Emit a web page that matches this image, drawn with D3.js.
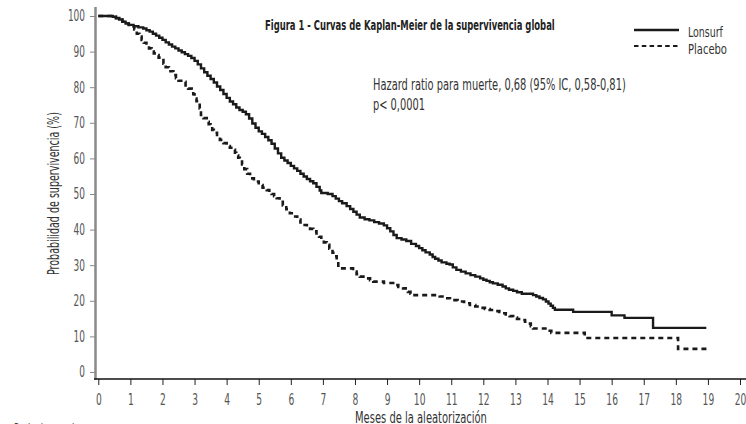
<!DOCTYPE html>
<html><head><meta charset="utf-8">
<script src="https://cdn.jsdelivr.net/npm/d3@7"></script>
<style>
html,body{margin:0;padding:0;background:#fff;}
text{font-family:"Liberation Sans Narrow","DejaVu Sans Condensed","Roboto Condensed","Liberation Sans",Arial,sans-serif;}
</style></head>
<body>
<svg id="c" width="746" height="424"></svg>
<script>
// ---- data ----
const lonsurfTime = [0,0.3,0.45,0.55,0.65,0.75,0.85,0.95,1.1,1.25,1.4,1.5,1.6,1.7,1.8,1.9,2.0,2.1,2.2,2.3,2.4,2.5,2.6,2.7,2.8,2.9,3.0,3.1,3.2,3.3,3.4,3.5,3.6,3.7,3.8,3.9,4.0,4.1,4.2,4.3,4.4,4.5,4.6,4.7,4.8,4.9,5.0,5.1,5.2,5.3,5.4,5.5,5.6,5.7,5.8,5.9,6.0,6.1,6.2,6.3,6.4,6.5,6.6,6.7,6.8,6.9,6.95,7.15,7.3,7.4,7.5,7.6,7.74,7.85,7.95,8.05,8.15,8.3,8.45,8.6,8.75,8.9,9.0,9.1,9.2,9.3,9.45,9.6,9.75,9.9,10.0,10.1,10.2,10.33,10.42,10.5,10.6,10.7,10.85,10.95,11.05,11.16,11.3,11.45,11.6,11.75,11.9,12.0,12.1,12.2,12.3,12.45,12.6,12.7,12.8,12.93,13.05,13.2,13.55,13.65,13.75,13.86,13.95,14.03,14.1,14.17,14.23,14.8,16.0,16.4,17.29,18.95];
const lonsurfSurv = [100,100,99.8,99.4,99.0,98.4,97.9,97.5,97.1,96.8,96.5,96.0,95.6,95.0,94.5,93.9,93.3,92.6,92.0,91.4,90.9,90.3,89.8,89.3,88.8,88.2,87.4,86.4,85.3,84.2,83.2,82.3,81.3,80.2,79.2,78.1,77.0,76.0,75.2,74.3,73.6,73.1,72.4,71.2,69.8,68.6,67.6,66.9,66.0,65.1,64.1,62.8,61.4,60.2,59.4,58.7,57.9,57.2,56.5,55.7,54.9,54.2,53.6,53.0,52.0,51.0,50.3,50.0,49.4,48.7,48.0,47.4,46.6,45.8,45.0,44.2,43.4,42.9,42.6,42.1,41.7,41.2,40.4,39.5,38.5,37.6,37.2,36.8,36.0,35.4,34.8,34.2,33.6,33.0,32.3,31.8,31.3,30.8,30.4,30.2,29.4,28.7,28.2,27.7,27.2,26.8,26.3,25.9,25.6,25.2,24.9,24.5,24.0,23.5,23.1,22.8,22.4,22.0,21.6,21.2,20.8,20.4,19.8,19.2,18.6,18.0,17.5,16.9,15.9,15.2,12.4,12.4];
const placeboTime = [0,0.3,0.45,0.55,0.65,0.75,0.85,0.95,1.05,1.12,1.2,1.28,1.35,1.42,1.5,1.58,1.66,1.73,1.8,1.88,1.97,2.03,2.1,2.2,2.34,2.42,2.5,2.65,2.72,2.8,2.91,2.96,3.0,3.06,3.12,3.16,3.2,3.28,3.38,3.44,3.5,3.55,3.6,3.7,3.79,3.9,4.0,4.1,4.21,4.26,4.3,4.36,4.41,4.48,4.55,4.64,4.73,4.85,5.0,5.12,5.25,5.33,5.4,5.48,5.56,5.65,5.75,5.86,5.97,6.08,6.2,6.3,6.39,6.5,6.6,6.7,6.8,6.88,6.95,7.03,7.12,7.2,7.3,7.37,7.43,7.48,7.94,8.05,8.15,8.36,8.47,8.57,8.9,9.19,9.35,9.5,9.58,9.65,9.73,9.81,10.64,10.8,10.96,11.2,11.4,11.58,11.75,11.9,12.05,12.2,12.35,12.5,12.6,12.7,12.82,12.93,13.05,13.2,13.3,13.4,13.48,13.55,14.07,14.12,15.16,18.07,19.0];
const placeboSurv = [100,100,99.8,99.4,99.0,98.4,97.9,97.5,97.0,96.2,95.0,94.2,93.3,92.5,91.8,90.9,90.0,89.5,89.0,88.3,87.6,86.6,85.6,84.5,83.4,82.5,81.8,81.5,80.5,79.6,79.2,78.0,76.8,76.1,75.5,74.0,72.2,71.3,70.3,69.6,68.9,68.0,67.2,66.2,65.2,64.3,63.5,63.0,62.4,61.6,60.8,60.2,59.6,58.3,57.0,55.7,54.4,53.5,52.5,51.8,51.1,50.5,50.0,49.4,48.8,47.8,46.8,45.7,44.6,43.7,42.8,42.0,41.3,40.8,40.2,39.5,38.9,38.0,37.2,36.4,35.7,34.6,33.5,32.5,31.5,29.1,28.2,27.5,26.8,26.3,25.8,25.4,25.0,24.4,23.9,23.5,23.0,22.5,22.0,21.6,21.2,20.7,20.2,19.8,19.3,18.8,18.4,18.0,17.7,17.4,17.1,16.9,16.5,16.2,15.7,15.3,14.9,14.6,14.1,13.6,12.9,12.2,11.6,11.0,9.55,6.5,6.5];
const xTicks = [0,1,2,3,4,5,6,7,8,9,10,11,12,13,14,15,16,17,18,19,20];
const yTicks = [0,10,20,30,40,50,60,70,80,90,100];
const seriesNames = ["Lonsurf","Placebo"];
const titleText = "Figura 1 - Curvas de Kaplan-Meier de la supervivencia global";
const hazardText = "Hazard ratio para muerte, 0,68 (95% IC, 0,58-0,81)";
const pText = "p< 0,0001";
const xLabel = "Meses de la aleatorización";
const yLabel = "Probabilidad de supervivencia (%)";
const footText = "Pacientes en riesgo";

// ---- drawing ----
const svg = d3.select("#c");
const x = d3.scaleLinear().domain([0,20]).range([98.3,740]);
const y = d3.scaleLinear().domain([0,100]).range([372,16]);

// y axis
const gy = svg.append("g").attr("transform","translate(95,0)")
  .call(d3.axisLeft(y).tickValues(yTicks).tickSize(5).tickPadding(5));
gy.select(".domain").remove();
gy.selectAll(".tick line").attr("stroke","#888").attr("stroke-width",1);
gy.selectAll(".tick text").attr("fill","#555").style("font-size","15px")
  .each(function(){ const t=this.textContent; d3.select(this).attr("textLength",t.length*5.7).attr("lengthAdjust","spacingAndGlyphs"); });
svg.append("line").attr("x1",95.5).attr("x2",95.5).attr("y1",7).attr("y2",379.5)
  .attr("stroke","#8a8a8a").attr("stroke-width",2.5);

// x axis
const gx = svg.append("g").attr("transform","translate(0,379)")
  .call(d3.axisBottom(x).tickValues(xTicks).tickSize(6).tickPadding(9).tickFormat(d3.format("d")));
gx.select(".domain").remove();
gx.selectAll(".tick line").attr("stroke","#222").attr("stroke-width",1);
gx.selectAll(".tick text").attr("fill","#555").style("font-size","15px")
  .each(function(){ const t=this.textContent; d3.select(this).attr("textLength",t.length*5.8).attr("lengthAdjust","spacingAndGlyphs"); });
svg.append("line").attr("x1",94).attr("x2",746).attr("y1",379).attr("y2",379)
  .attr("stroke","#111").attr("stroke-width",1.6);

// curves
const line = d3.line().x(d=>x(d[0])).y(d=>y(d[1])).curve(d3.curveStepAfter);
const lonsurf = lonsurfTime.map((t,i)=>[t,lonsurfSurv[i]]);
const placebo = placeboTime.map((t,i)=>[t,placeboSurv[i]]);
svg.append("path").datum(placebo).attr("d",line).attr("fill","none")
  .attr("stroke","#1a1a1a").attr("stroke-width",2.6).attr("stroke-dasharray","5,4");
svg.append("path").datum(lonsurf).attr("d",line).attr("fill","none")
  .attr("stroke","#1a1a1a").attr("stroke-width",2.4);

// texts: drawn at natural size, then squeezed horizontally to the reference width
function txt(s,xx,yy,size,len,opts={}){
  const t = svg.append("text").attr("x",0).attr("y",0).text(s)
    .style("font-size",size+"px").attr("fill",opts.fill||"#333");
  if(opts.bold) t.style("font-weight","bold");
  const w = t.node().getComputedTextLength() || len;
  const sx = len / w;
  t.attr("transform",`translate(${xx},${yy})${opts.rotate?" rotate(-90)":""} scale(${sx},1)`);
  return t;
}
txt(titleText,265,30,14,290,{bold:true,fill:"#222"});
txt(hazardText,373,90,16,253);
txt(pText,373,110,16,52);
txt(xLabel,355,423,16,132);
txt(yLabel,59,275,16,163,{rotate:true});
txt(footText,14,432,12,80,{fill:"#444"});

// legend
svg.append("line").attr("x1",634).attr("x2",679).attr("y1",30).attr("y2",30)
  .attr("stroke","#1a1a1a").attr("stroke-width",2.4);
svg.append("line").attr("x1",634).attr("x2",679).attr("y1",46).attr("y2",46)
  .attr("stroke","#1a1a1a").attr("stroke-width",2.2).attr("stroke-dasharray","4.5,3.3");
txt(seriesNames[0],688,37,13.5,35);
txt(seriesNames[1],688,54,13.5,39);
</script>
</body></html>
